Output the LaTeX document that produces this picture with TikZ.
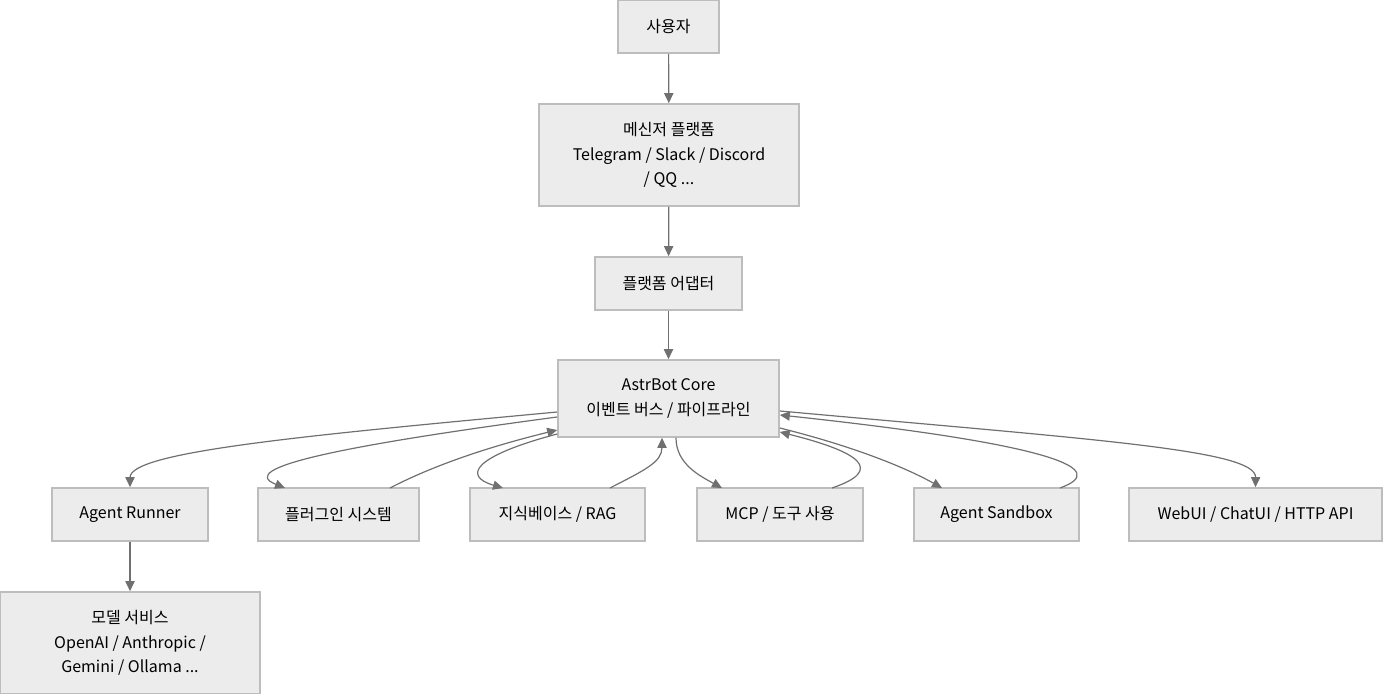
\documentclass[tikz,border=0pt]{standalone}
\usepackage{fontspec}
\setmainfont{Noto Sans CJK KR}
\usepackage{tikz}
\usetikzlibrary{arrows.meta}
\definecolor{boxfill}{HTML}{ECECEC}
\definecolor{boxline}{HTML}{BDBDBD}
\definecolor{linkgray}{HTML}{707070}
\tikzset{
  box/.style={draw=boxline, fill=boxfill, line width=0.8pt, align=center,
    inner sep=0pt, font=\fontsize{8}{12.2}\selectfont},
  link/.style={draw=linkgray, line width=0.6pt,
    -{Triangle[length=5pt,width=4.6pt]}}
}

\begin{document}
\begin{tikzpicture}[x=0.5pt, y=-0.5pt]
\useasboundingbox (0,0) rectangle (1383,694);

% top chain
\node[box, minimum width=50.5pt, minimum height=26.5pt] (user) at (668.5,26.5) {사용자};
\node[box, minimum width=130pt, minimum height=51pt] (messenger) at (669,155)
  {메신저 플랫폼\\Telegram / Slack / Discord\\/ QQ ...};
\node[box, minimum width=73.5pt, minimum height=26.5pt] (adapter) at (668.5,283.5) {플랫폼 어댑터};
\node[box, minimum width=110.5pt, minimum height=38.5pt] (core) at (668.5,398.5)
  {AstrBot Core\\이벤트 버스 / 파이프라인};

% second row
\node[box, minimum width=78pt, minimum height=26.5pt] (runner) at (130,514.5) {Agent Runner};
\node[box, minimum width=80.5pt, minimum height=26.5pt] (plugin) at (338.5,514.5) {플러그인 시스템};
\node[box, minimum width=87.5pt, minimum height=26.5pt] (rag) at (557.5,514.5) {지식베이스 / RAG};
\node[box, minimum width=83pt, minimum height=26.5pt] (mcp) at (780,514.5) {MCP / 도구 사용};
\node[box, minimum width=82.5pt, minimum height=26.5pt] (sandbox) at (996.5,514.5) {Agent Sandbox};
\node[box, minimum width=126.5pt, minimum height=26.5pt] (webui) at (1255.5,514.5) {WebUI / ChatUI / HTTP API};
\node[box, minimum width=130pt, minimum height=51pt] (model) at (130,643)
  {모델 서비스\\OpenAI / Anthropic /\\Gemini / Ollama ...};

% straight links
\draw[link] (user) -- (messenger);
\draw[link] (messenger) -- (adapter);
\draw[link] (adapter) -- (core);
\draw[link] (runner) -- (model);

% core to modules and back
\draw[link] (core.west |- 0,412) .. controls (300,436) and (130,452) .. (runner.north);
\draw[link] (core.west |- 0,417) .. controls (340,446) and (235,468) .. (285,488);
\draw[link] (390,488) .. controls (440,462) and (500,444) .. (core.west |- 0,430);
\draw[link] (core.west |- 0,434) .. controls (474,456) and (462,476) .. (503,488);
\draw[link] (610,488) .. controls (645,470) and (662,462) .. (core.south -| 662,0);
\draw[link] (core.south -| 676,0) .. controls (676,464) and (700,476) .. (722,488);
\draw[link] (832,488) .. controls (885,470) and (860,452) .. (core.east |- 0,432);
\draw[link] (core.east |- 0,428) .. controls (860,448) and (910,470) .. (942,488);
\draw[link] (1060,488) .. controls (1110,470) and (1060,445) .. (core.east |- 0,415);
\draw[link] (core.east |- 0,411) .. controls (1100,440) and (1256,450) .. (webui.north);
\end{tikzpicture}
\end{document}
